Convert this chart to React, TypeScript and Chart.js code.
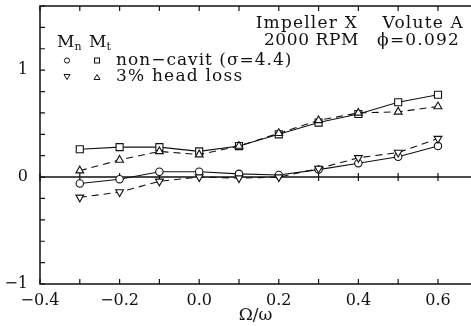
import React, { useEffect, useRef } from 'react';
import { Chart, registerables } from 'chart.js';

Chart.register(...registerables);

// ---- data ----
const xValues = [-0.3, -0.2, -0.1, 0.0, 0.1, 0.2, 0.3, 0.4, 0.5, 0.6];
const mnNonCavit = [-0.06, -0.02, 0.05, 0.05, 0.03, 0.02, 0.07, 0.13, 0.19, 0.29];
const mtNonCavit = [0.26, 0.28, 0.28, 0.24, 0.29, 0.40, 0.51, 0.59, 0.70, 0.77];
const mnHeadLoss = [-0.19, -0.14, -0.04, 0.0, -0.01, 0.0, 0.08, 0.18, 0.23, 0.36];
const mtHeadLoss = [0.06, 0.16, 0.24, 0.21, 0.29, 0.41, 0.53, 0.60, 0.61, 0.66];

const xTickValues = [-0.4, -0.3, -0.2, -0.1, 0.0, 0.1, 0.2, 0.3, 0.4, 0.5, 0.6];
const xLabeledTicks = [-0.4, -0.2, 0.0, 0.2, 0.4, 0.6];
const yTickValues = [-1.0, -0.8, -0.6, -0.4, -0.2, 0.0, 0.2, 0.4, 0.6, 0.8, 1.0, 1.2, 1.4, 1.6];
const yLabeledTicks = [-1, 0, 1];

const xTitle = 'Ω/ω';
const annotationLines = [
  ['Impeller X', 'Volute A'],
  ['2000 RPM', 'ϕ=0.092'],
];
const legendLabels = ['non−cavit (σ=4.4)', '3% head loss'];

const FONT = '"DejaVu Serif", "Liberation Serif", serif';
const INK = '#111';

const near = (a: number, b: number) => Math.abs(a - b) < 1e-6;
const fmt = (s: string) => s.replace('-', '−');

function series(ys: number[]) {
  return xValues.map((x, i) => ({ x, y: ys[i] }));
}

const framePlugin = {
  id: 'framePlugin',
  beforeDatasetsDraw(chart: any) {
    const { ctx, chartArea: a, scales } = chart;
    const xs = scales.x;
    const ys = scales.y;
    const y0 = ys.getPixelForValue(0);
    ctx.save();
    ctx.strokeStyle = INK;
    ctx.lineWidth = 1.5;
    ctx.beginPath();
    ctx.moveTo(a.right, a.top);
    ctx.lineTo(a.left, a.top);
    ctx.lineTo(a.left, a.bottom);
    ctx.lineTo(a.right, a.bottom);
    ctx.moveTo(a.left, y0);
    ctx.lineTo(a.right, y0);
    ctx.stroke();
    ctx.lineWidth = 1.2;
    ctx.beginPath();
    xTickValues.forEach((v) => {
      const px = xs.getPixelForValue(v);
      ctx.moveTo(px, a.top);
      ctx.lineTo(px, a.top + 5);
      ctx.moveTo(px, a.bottom);
      ctx.lineTo(px, a.bottom - 5);
      ctx.moveTo(px, y0 - 4);
      ctx.lineTo(px, y0 + 4);
    });
    yTickValues.forEach((v) => {
      const py = ys.getPixelForValue(v);
      ctx.moveTo(a.left, py);
      ctx.lineTo(a.left + 5, py);
    });
    ctx.stroke();
    ctx.restore();
  },
  afterDatasetsDraw(chart: any) {
    const { ctx } = chart;
    ctx.save();
    ctx.fillStyle = INK;
    ctx.strokeStyle = INK;
    ctx.textBaseline = 'alphabetic';
    ctx.font = `17px ${FONT}`;
    (ctx as any).letterSpacing = '1.2px';

    // right-hand annotation block
    ctx.textAlign = 'right';
    ctx.fillText(annotationLines[0][0], 358, 28);
    ctx.fillText(annotationLines[0][1], 464, 28);
    (ctx as any).letterSpacing = '0.6px';
    ctx.fillText(annotationLines[1][0], 359, 45);
    (ctx as any).letterSpacing = '1.2px';
    ctx.fillText(annotationLines[1][1], 460, 45);

    // legend header  M_n  M_t
    ctx.textAlign = 'left';
    (ctx as any).letterSpacing = '0px';
    const mW = ctx.measureText('M').width;
    ctx.fillText('M', 57, 47);
    ctx.fillText('M', 89, 47);
    ctx.font = `11px ${FONT}`;
    ctx.fillText('n', 57 + mW, 50);
    ctx.fillText('t', 89 + mW, 50);

    // legend text
    ctx.font = `17px ${FONT}`;
    (ctx as any).letterSpacing = '1px';
    ctx.fillText(legendLabels[0], 116, 65);
    (ctx as any).letterSpacing = '1.2px';
    ctx.fillText(legendLabels[1], 116, 81);

    // legend symbols
    ctx.lineWidth = 1;
    ctx.beginPath();
    ctx.arc(67, 60.5, 2.6, 0, Math.PI * 2);
    ctx.stroke();
    ctx.strokeRect(94.5, 58, 5, 5);
    ctx.beginPath();
    ctx.moveTo(64, 74.5);
    ctx.lineTo(70, 74.5);
    ctx.lineTo(67, 79.5);
    ctx.closePath();
    ctx.stroke();
    ctx.beginPath();
    ctx.moveTo(94, 79.5);
    ctx.lineTo(100, 79.5);
    ctx.lineTo(97, 74.5);
    ctx.closePath();
    ctx.stroke();
    ctx.restore();
  },
};

function ds(label: string, ys: number[], style: string, dashed: boolean, rotation = 0, radius = 4) {
  return {
    label,
    data: series(ys),
    borderColor: INK,
    borderWidth: 1.1,
    borderDash: dashed ? [7, 5] : [],
    pointStyle: style,
    pointRotation: rotation,
    pointRadius: radius,
    pointBorderColor: INK,
    pointBackgroundColor: '#fff',
    pointBorderWidth: 1.1,
    tension: 0,
    fill: false,
  };
}

export default function App() {
  const ref = useRef<HTMLCanvasElement | null>(null);
  useEffect(() => {
    document.body.style.margin = '0';
    const canvas = ref.current;
    if (!canvas) return;
    const chart = new Chart(canvas, {
      type: 'line',
      data: {
        datasets: [
          ds('Mn 3% head loss', mnHeadLoss, 'triangle', true, 180, 4.5),
          ds('Mt 3% head loss', mtHeadLoss, 'triangle', true, 0, 4.5),
          ds('Mn non-cavit', mnNonCavit, 'circle', false, 0, 3.7),
          ds('Mt non-cavit', mtNonCavit, 'rect', false, 0, 5),
        ] as any,
      },
      options: {
        animation: false,
        responsive: false,
        devicePixelRatio: 1,
        layout: { autoPadding: false, padding: { top: 6, right: 0, bottom: 0, left: 0 } },
        plugins: {
          legend: { display: false },
          tooltip: { enabled: false },
        },
        scales: {
          x: {
            type: 'linear',
            min: -0.4,
            max: 0.683,
            border: { display: false },
            grid: { display: false, drawTicks: false, tickLength: 0 },
            afterBuildTicks: (scale: any) => {
              scale.ticks = xTickValues.map((v) => ({ value: v }));
            },
            afterFit: (scale: any) => {
              scale.height = 42;
              scale.paddingLeft = 0;
              scale.paddingRight = 0;
            },
            ticks: {
              autoSkip: false,
              maxRotation: 0,
              padding: 7,
              color: INK,
              font: { family: FONT, size: 16 },
              callback: (v: any) => {
                const n = Number(v);
                return xLabeledTicks.some((t) => near(t, n)) ? fmt(n.toFixed(1)) : '';
              },
            },
            title: {
              display: true,
              text: xTitle,
              color: INK,
              font: { family: FONT, size: 17 },
              padding: { top: 0, bottom: 0 },
            },
          },
          y: {
            type: 'linear',
            min: -1,
            max: 1.6,
            border: { display: false },
            grid: { display: false, drawTicks: false, tickLength: 0 },
            afterBuildTicks: (scale: any) => {
              scale.ticks = yTickValues.map((v) => ({ value: v }));
            },
            afterFit: (scale: any) => {
              scale.width = 40;
              scale.paddingTop = 0;
              scale.paddingBottom = 0;
            },
            ticks: {
              autoSkip: false,
              padding: 12,
              color: INK,
              font: { family: FONT, size: 16 },
              callback: (v: any) => {
                const n = Number(v);
                const hit = yLabeledTicks.find((t) => near(t, n));
                return hit !== undefined ? fmt(String(hit)) : '';
              },
            },
          },
        },
      } as any,
      plugins: [framePlugin],
    });
    return () => chart.destroy();
  }, []);
  return (
    <div style={{ width: 471, height: 326 }}>
      <canvas ref={ref} width={471} height={326} style={{ display: 'block', width: 471, height: 326 }} />
    </div>
  );
}
